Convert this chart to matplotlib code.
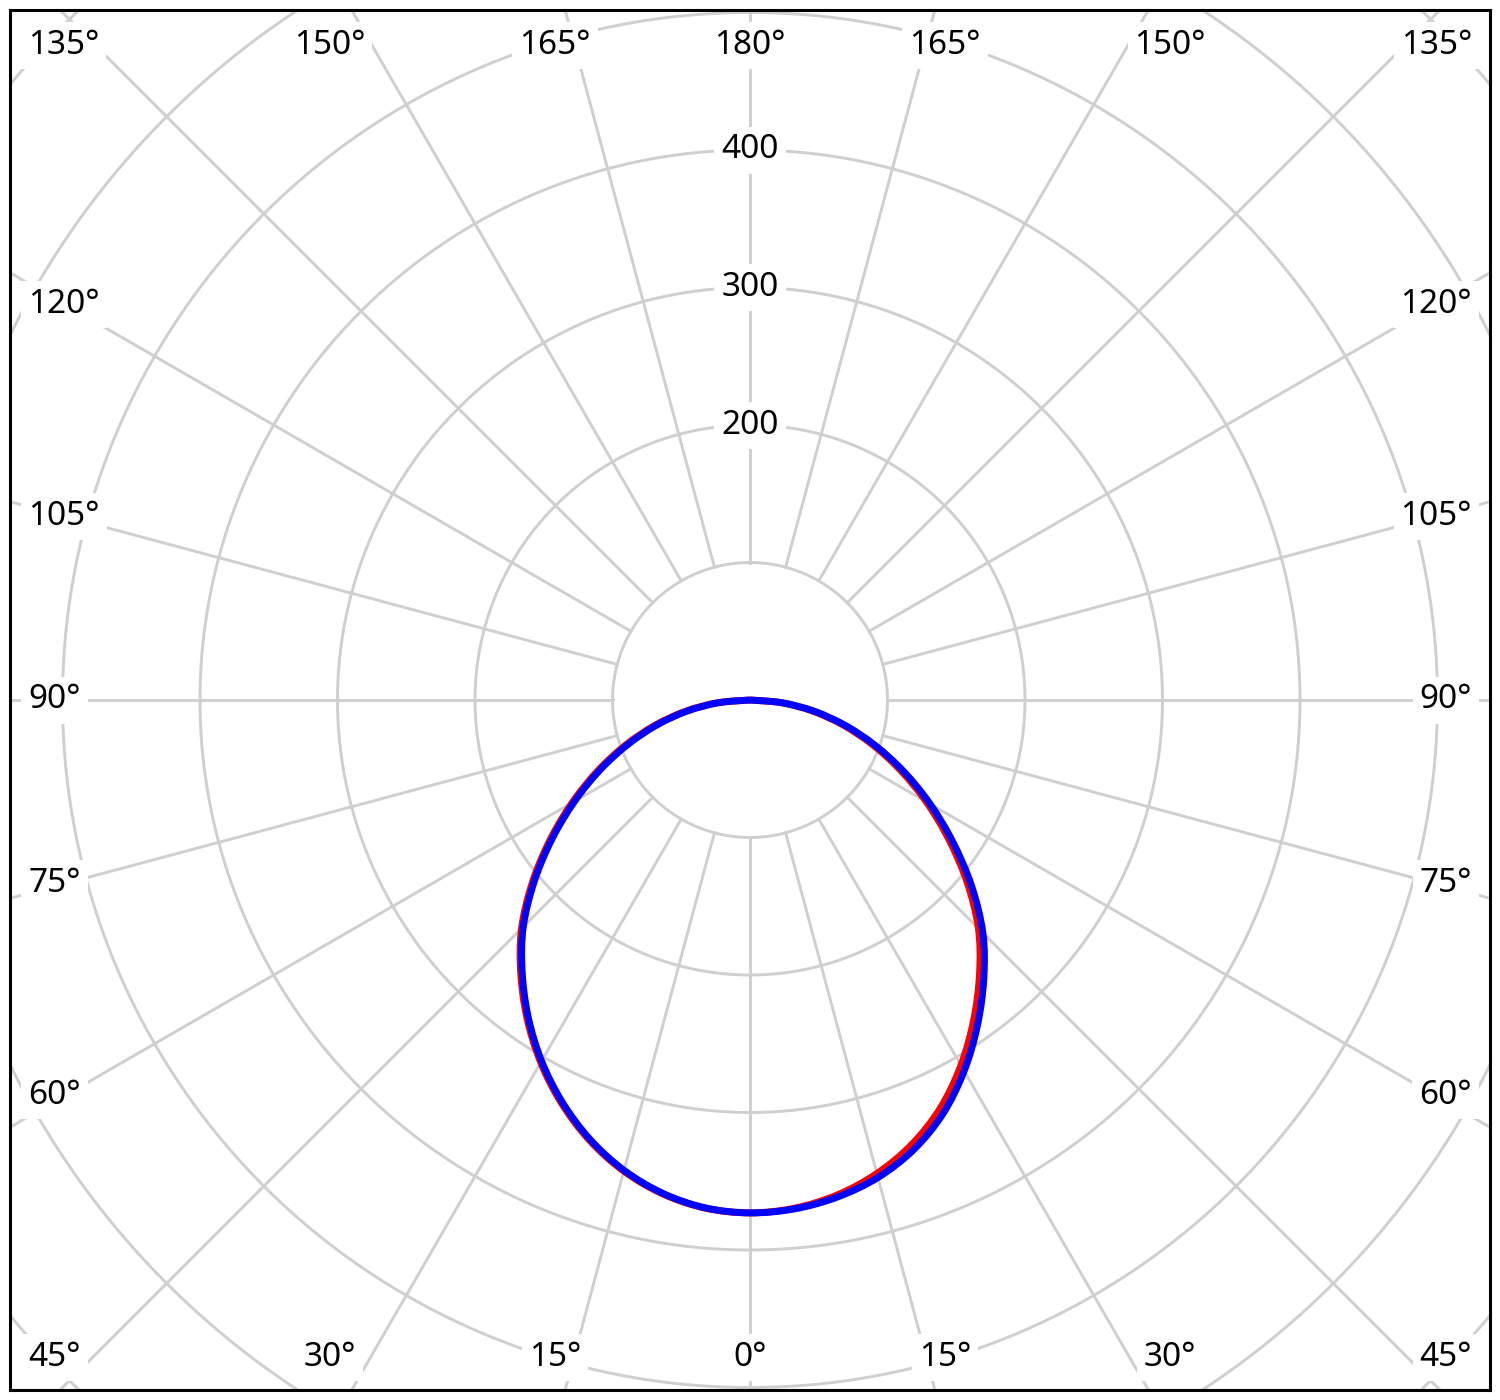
import numpy as np
import matplotlib.pyplot as plt
from matplotlib.path import Path
from matplotlib.patches import PathPatch

# luminous intensity (cd), every 5 degrees from nadir (0) to horizontal (90)
angles = np.arange(0, 95, 5)
red_right = [373, 371.0, 365.5, 356.5, 344.0, 327.5, 306.8, 283.7, 259.7, 234.9,
             206.1, 176.4, 148.0, 120.7, 94.7, 70.0, 46.2, 23.0, 0]
red_left = [373, 371.0, 364.8, 354.7, 340.9, 323.9, 304.4, 282.7, 259.4, 235.0,
            206.7, 177.6, 149.3, 122.4, 96.6, 71.9, 47.9, 24.0, 0]
blue_right = [373, 371.5, 367.0, 359.5, 348.0, 332.0, 311.5, 288.5, 264.5, 239.5,
              210.3, 180.1, 151.2, 123.5, 97.1, 72.0, 47.7, 23.8, 0]
blue_left = [373, 370.8, 364.4, 354.1, 340.1, 322.9, 303.2, 281.3, 257.8, 233.2,
             204.7, 175.6, 147.3, 120.4, 94.6, 70.1, 46.4, 23.2, 0]

ring_values = [100, 200, 300, 400, 500, 600, 700, 800]
ring_labels = [200, 300, 400]
spoke_angles = np.arange(-165, 195, 15)

px = 1.375          # pixels per cd
grid_color = "#cfcfcf"
font = ["Noto Sans", "DejaVu Sans"]
fsize = 24

fig = plt.figure(figsize=(15, 14), dpi=100)
ax = fig.add_axes([10 / 1500, 10 / 1400, 1480 / 1500, 1380 / 1400])
ax.set_xlim(-740 / px, 740 / px)
ax.set_ylim(-690 / px, 690 / px)
ax.set_xticks([])
ax.set_yticks([])
for s in ax.spines.values():
    s.set_linewidth(2.2)
    s.set_color("black")

# rings
t = np.linspace(0, 2 * np.pi, 721)
for r in ring_values:
    ax.plot(r * np.cos(t), r * np.sin(t), color=grid_color, lw=2.1, zorder=1)

# spokes (from the inner circle outward)
for a in spoke_angles:
    th = np.radians(a)
    rr = np.array([ring_values[0], 1000])
    ax.plot(rr * np.sin(th), -rr * np.cos(th), color=grid_color, lw=2.1, zorder=1)

box = dict(facecolor="white", edgecolor="none", pad=5)

# value labels on the upward spoke
for v in ring_labels:
    ax.text(0, v, str(v), ha="center", va="center", fontsize=fsize,
            family=font, bbox=box, zorder=5)

# angle labels around the frame
side_x = 722 / px
side_d = 685 / px
top_d = 728 / px
top_y = 655 / px
bot_y = -657 / px
for a in spoke_angles:
    lab = f"{abs(a)}°"
    th = np.radians(a)
    sgn = 1 if a > 0 else -1
    ha = "center"
    if abs(a) in (45, 135):
        x = sgn * side_x
        y = top_y if abs(a) == 135 else bot_y
        ha = "left" if sgn < 0 else "right"
    elif 45 < abs(a) < 135:
        x = sgn * side_x
        y = -side_d * np.cos(th) / abs(np.sin(th))
        ha = "left" if sgn < 0 else "right"
    elif abs(a) <= 30:
        x = top_d * np.tan(th)
        y = bot_y
    else:
        x = -top_d * np.tan(th)
        y = top_y
    ax.text(x, y, lab, ha=ha, va="center", fontsize=fsize, family=font,
            bbox=box, zorder=5)


# intensity curves: smooth bezier path through the measured points
def curve_path(left, right):
    th = np.radians(np.concatenate([-angles[::-1], angles[1:]]))
    v = np.concatenate([np.array(left)[::-1], np.array(right)[1:]])
    pts = np.column_stack([v * np.sin(th), -v * np.cos(th)])
    ext = np.vstack([pts[0], pts, pts[-1]])
    verts = [pts[0]]
    codes = [Path.MOVETO]
    for i in range(len(pts) - 1):
        p0, p1, p2, p3 = ext[i], ext[i + 1], ext[i + 2], ext[i + 3]
        verts += [p1 + (p2 - p0) / 6, p2 - (p3 - p1) / 6, p2]
        codes += [Path.CURVE4] * 3
    return Path(verts, codes)


ax.add_patch(PathPatch(curve_path(red_left, red_right), fill=False,
                       edgecolor="#ff0000", lw=5, zorder=3))
ax.add_patch(PathPatch(curve_path(blue_left, blue_right), fill=False,
                       edgecolor="#0000ff", lw=5, zorder=4))

fig.savefig("out.png", dpi=100)
